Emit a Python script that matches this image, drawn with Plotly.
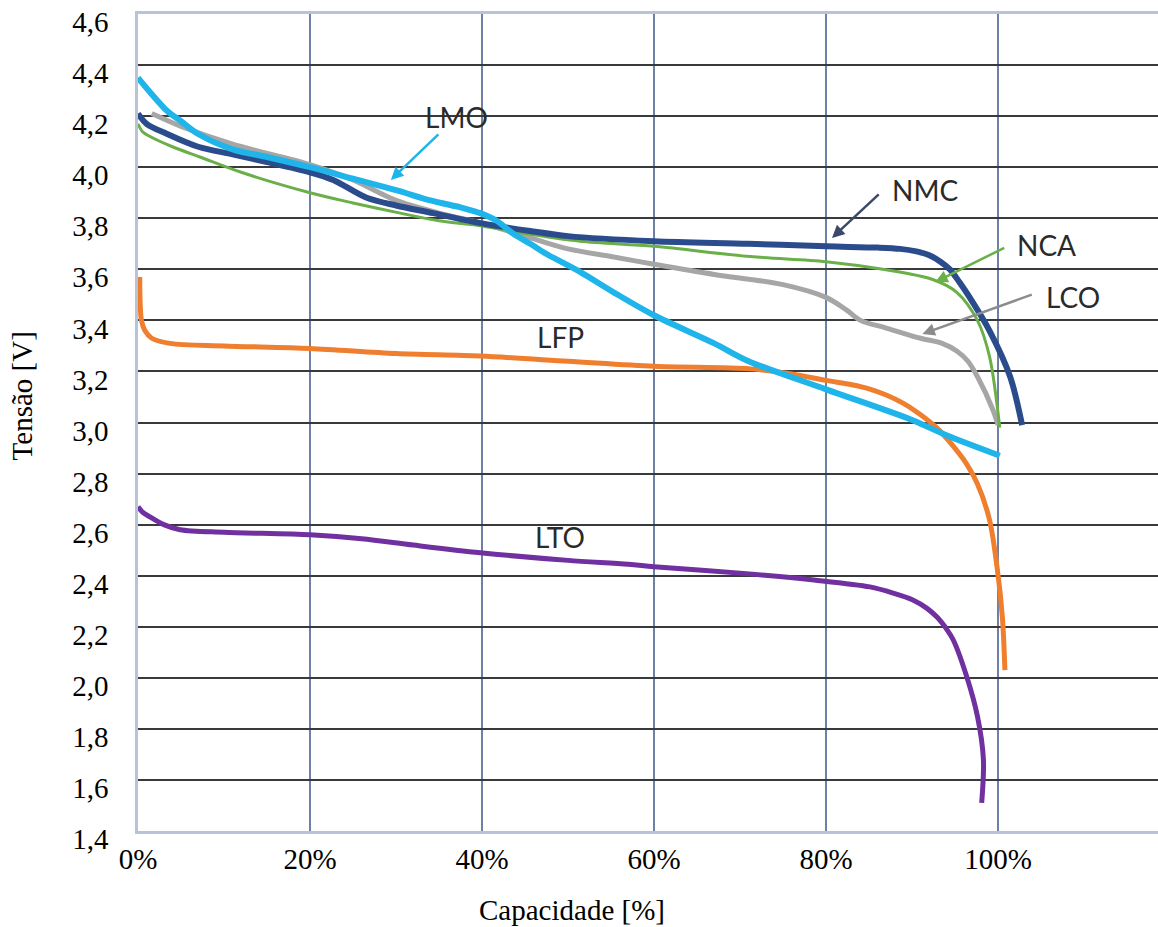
import plotly.graph_objects as go

# ---- data (capacity %, voltage V) ----
lmo_x = [0, 1.5, 3.4, 5, 7, 11, 15, 20, 25, 30, 34, 37.8, 39.8, 41.7, 43.6, 45.6, 47.5, 51.4, 55.3, 60, 67, 71, 80, 90, 94, 100.2]
lmo_y = [4.35, 4.29, 4.22, 4.18, 4.13, 4.07, 4.04, 4.00, 3.955, 3.91, 3.87, 3.84, 3.82, 3.79, 3.74, 3.70, 3.66, 3.59, 3.51, 3.42, 3.31, 3.24, 3.13, 3.01, 2.95, 2.87]

nmc_x = [0, 1, 3.4, 7, 11, 15, 20, 22.7, 26.6, 30, 34.3, 40, 45.6, 50, 60, 71, 80, 86, 88.6, 90.5, 92, 93.3, 94.4, 95.5, 96.7, 99, 101.4, 102.8]
nmc_y = [4.21, 4.17, 4.13, 4.08, 4.05, 4.02, 3.98, 3.95, 3.88, 3.85, 3.82, 3.78, 3.75, 3.73, 3.71, 3.70, 3.69, 3.685, 3.68, 3.67, 3.655, 3.63, 3.60, 3.55, 3.49, 3.36, 3.18, 2.99]

nca_x = [0, 0.5, 1.4, 4, 7.2, 12, 20, 25, 30.5, 35, 40, 45, 51.4, 60, 71.2, 80, 86.6, 92.4, 95.2, 97.6, 99, 100.2]
nca_y = [4.17, 4.14, 4.12, 4.08, 4.04, 3.98, 3.90, 3.86, 3.82, 3.79, 3.77, 3.74, 3.71, 3.69, 3.65, 3.63, 3.60, 3.56, 3.51, 3.40, 3.26, 2.98]

lco_x = [1.6, 5, 11, 20, 25, 30, 35, 40, 45, 50, 55, 60, 67, 75, 80, 82.4, 84, 87, 91, 93.5, 95.2, 96.5, 97.6, 99.4, 100]
lco_y = [4.21, 4.16, 4.09, 4.01, 3.95, 3.87, 3.82, 3.78, 3.73, 3.68, 3.65, 3.62, 3.58, 3.54, 3.49, 3.44, 3.40, 3.37, 3.33, 3.31, 3.28, 3.24, 3.18, 3.05, 2.99]

lfp_x = [0.2, 0.25, 0.4, 0.8, 1.6, 3.7, 10, 20, 30, 39.8, 50, 60, 71.2, 76, 80, 83, 85, 87, 89, 91, 93, 94.6, 96.3, 97.6, 99, 99.9, 100.5, 100.8]
lfp_y = [3.57, 3.47, 3.40, 3.36, 3.33, 3.31, 3.30, 3.29, 3.27, 3.26, 3.24, 3.22, 3.21, 3.19, 3.165, 3.148, 3.132, 3.108, 3.075, 3.03, 2.975, 2.915, 2.84, 2.76, 2.62, 2.43, 2.24, 2.03]

lto_x = [0, 0.5, 1.4, 3, 4.9, 10, 20, 26, 32, 39.8, 50, 57, 60, 70, 78.6, 85.1, 87.8, 90.1, 91.7, 92.9, 94.1, 94.8, 96.4, 97.6, 98.3, 98.1]
lto_y = [2.67, 2.65, 2.63, 2.60, 2.58, 2.57, 2.56, 2.545, 2.52, 2.49, 2.46, 2.445, 2.435, 2.41, 2.383, 2.356, 2.332, 2.305, 2.273, 2.238, 2.187, 2.148, 2.00, 1.85, 1.68, 1.51]

y_ticks = [1.4, 1.6, 1.8, 2.0, 2.2, 2.4, 2.6, 2.8, 3.0, 3.2, 3.4, 3.6, 3.8, 4.0, 4.2, 4.4, 4.6]
y_labels = ["1,4", "1,6", "1,8", "2,0", "2,2", "2,4", "2,6", "2,8", "3,0", "3,2", "3,4", "3,6", "3,8", "4,0", "4,2", "4,4", "4,6"]
x_ticks = [0, 20, 40, 60, 80, 100]
x_labels = ["0%", "20%", "40%", "60%", "80%", "100%"]

series = [
    ("LTO", lto_x, lto_y, "#7030a0", 5),
    ("LFP", lfp_x, lfp_y, "#ef7f2e", 5),
    ("LCO", lco_x, lco_y, "#a6a6a6", 5),
    ("NCA", nca_x, nca_y, "#6aaf48", 3),
    ("NMC", nmc_x, nmc_y, "#2b4c8c", 6),
    ("LMO", lmo_x, lmo_y, "#1fb4ea", 6),
]

fig = go.Figure()
for name, xs, ys, col, w in series:
    fig.add_trace(go.Scatter(x=xs, y=ys, mode="lines", name=name,
                             line=dict(color=col, width=w, shape="spline", smoothing=0.9)))

serif = "Liberation Serif"
sans = "Lato"

# curve labels
labels = [
    ("LMO", 37.0, 4.197),
    ("NMC", 91.5, 3.911),
    ("NCA", 105.6, 3.695),
    ("LCO", 108.7, 3.492),
    ("LFP", 49.1, 3.335),
    ("LTO", 49.1, 2.552),
]
for t, x, y in labels:
    fig.add_annotation(x=x, y=y, text=t, showarrow=False, xanchor="center", yanchor="middle",
                       font=dict(family=sans, size=28, color="#2a2a2a"))

# arrows (tail -> head)
arrows = [
    (35.1, 4.134, 29.4, 3.95, "#1fb4ea"),
    (86.3, 3.899, 80.7, 3.723, "#3a4a68"),
    (100.9, 3.687, 92.7, 3.55, "#6aaf48"),
    (104.1, 3.503, 91.2, 3.347, "#8c8c8c"),
]
for ax_, ay_, hx, hy, col in arrows:
    fig.add_annotation(x=hx, y=hy, ax=ax_, ay=ay_, axref="x", ayref="y",
                       text="", showarrow=True, arrowhead=2, arrowsize=1,
                       arrowwidth=2.5, arrowcolor=col, standoff=0, startstandoff=0)

# axis titles
fig.add_annotation(xref="paper", yref="paper", x=-0.1137, y=0.532, text="Tensão [V]",
                   xanchor="center", yanchor="middle",
                   textangle=-90, showarrow=False, font=dict(family=serif, size=29, color="#000"))
fig.add_annotation(xref="paper", yref="paper", x=0.4255, y=-0.0967, text="Capacidade [%]",
                   xanchor="center", yanchor="middle",
                   showarrow=False, font=dict(family=serif, size=29, color="#000"))

fig.update_layout(
    width=1158, height=927,
    margin=dict(l=138, r=0, t=14, b=96),
    paper_bgcolor="white", plot_bgcolor="white",
    showlegend=False,
    font=dict(family=serif, size=29, color="#000"),
    xaxis=dict(range=[0, 118.6], tickmode="array", tickvals=x_ticks, ticktext=x_labels,
               showgrid=True, gridcolor="#6f80a6", gridwidth=1.5,
               showline=True, linecolor="#b7c3d9", linewidth=2.5, mirror=True,
               zeroline=False, ticks="", ticklabeloverflow="allow",
               tickfont=dict(family=serif, size=29, color="#000")),
    yaxis=dict(range=[1.4, 4.6], tickmode="array", tickvals=y_ticks, ticktext=y_labels,
               showgrid=True, gridcolor="#3a3a3a", gridwidth=2.2,
               showline=True, linecolor="#b7c3d9", linewidth=2.5,
               zeroline=False, ticks="", ticklabeloverflow="allow",
               ticklabelstandoff=21, ticklabelshift=8,
               tickfont=dict(family=serif, size=29, color="#000")),
)

fig.write_html("out.html")
